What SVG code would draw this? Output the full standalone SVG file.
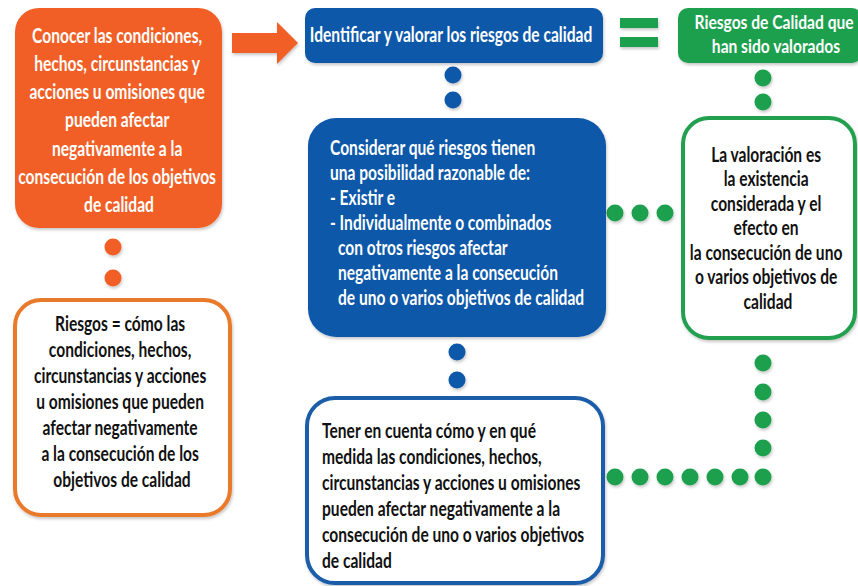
<svg xmlns="http://www.w3.org/2000/svg" width="858" height="586" viewBox="0 0 858 586">
<defs>
<filter id="sh" x="-20%" y="-20%" width="140%" height="140%">
<feDropShadow dx="1" dy="2" stdDeviation="1.5" flood-color="#000" flood-opacity="0.22"/>
</filter>
<style>
text{font-family:Lato,"Liberation Sans",Arial,sans-serif;font-size:21.5px;font-weight:bold}
.w{fill:#fff}
.k{fill:#111}
.c{text-anchor:middle}
.hd{font-size:19.5px}
.of{fill:#F15F25}
.bf{fill:#0B58A8}
.gf{fill:#1FA04D}
.os{fill:#fff;stroke:#E97A2C;stroke-width:4}
.bs{fill:#fff;stroke:#1A5DAA;stroke-width:4}
.gs{fill:#fff;stroke:#22A04F;stroke-width:4}
.sh{filter:url(#sh)}
</style>
</defs>
<rect width="858" height="586" fill="#fff"/>

<g id="connectors">
<polygon class="of sh" points="232,33 277,33 277,22 298,43 277,64 277,53 232,53"/>
<g class="gf sh">
<rect x="620" y="18" width="38" height="10"/>
<rect x="620" y="37" width="38" height="10"/>
</g>
<g class="of sh">
<circle cx="113" cy="247" r="8.5"/>
<circle cx="113" cy="278" r="8.5"/>
</g>
<g class="bf sh">
<circle cx="453" cy="75" r="8.5"/>
<circle cx="453" cy="100" r="8.5"/>
<circle cx="457" cy="352" r="8.5"/>
<circle cx="457" cy="380" r="8.5"/>
</g>
<g class="gf sh">
<circle cx="763" cy="78" r="8.5"/>
<circle cx="763" cy="102" r="8.5"/>
<circle cx="615" cy="213" r="8.5"/>
<circle cx="640" cy="213" r="8.5"/>
<circle cx="665" cy="213" r="8.5"/>
<circle cx="763" cy="363" r="8.5"/>
<circle cx="763" cy="392" r="8.5"/>
<circle cx="763" cy="420" r="8.5"/>
<circle cx="763" cy="448" r="8.5"/>
<circle cx="763" cy="477" r="8.5"/>
<circle cx="615" cy="477" r="8.5"/>
<circle cx="640" cy="477" r="8.5"/>
<circle cx="665" cy="477" r="8.5"/>
<circle cx="690" cy="477" r="8.5"/>
<circle cx="715" cy="477" r="8.5"/>
<circle cx="740" cy="477" r="8.5"/>
</g>
</g>

<g id="conocer">
<rect class="of sh" x="15" y="8" width="207" height="220" rx="24"/>
<text class="w c" transform="translate(119 0) scale(0.725 1)">
<tspan x="0" y="43">Conocer las condiciones,</tspan>
<tspan x="0" y="71">hechos,  circunstancias y</tspan>
<tspan x="0" y="99">acciones u omisiones que</tspan>
<tspan x="0" y="127">pueden afectar</tspan>
<tspan x="0" y="156">negativamente a la</tspan>
<tspan x="0" y="184">consecución de los objetivos</tspan>
<tspan x="0" y="212">de calidad</tspan>
</text>
</g>

<g id="riesgos-def">
<rect class="os sh" x="15" y="300" width="215" height="215" rx="26"/>
<text class="k c" transform="translate(122 0) scale(0.725 1)">
<tspan x="0" y="331">Riesgos = cómo las</tspan>
<tspan x="0" y="357">condiciones, hechos,</tspan>
<tspan x="0" y="383">circunstancias y acciones</tspan>
<tspan x="0" y="409">u omisiones que pueden</tspan>
<tspan x="0" y="435">afectar negativamente</tspan>
<tspan x="0" y="461">a la consecución de los</tspan>
<tspan x="0" y="487">objetivos de calidad</tspan>
</text>
</g>

<g id="identificar">
<rect class="bf sh" x="305" y="8" width="298" height="55" rx="10"/>
<text class="w c" transform="translate(451 0) scale(0.725 1)" x="0" y="42">Identificar y valorar los riesgos de calidad</text>
</g>

<g id="considerar">
<rect class="bf sh" x="308" y="118" width="298" height="219" rx="28"/>
<text class="w" transform="translate(330 0) scale(0.725 1)">
<tspan x="0" y="155">Considerar qué riesgos tienen</tspan>
<tspan x="0" y="180">una posibilidad razonable de:</tspan>
<tspan x="0" y="205">- Existir e</tspan>
<tspan x="0" y="230">- Individualmente o combinados</tspan>
<tspan x="11" y="255">con otros riesgos afectar</tspan>
<tspan x="11" y="280">negativamente a la consecución</tspan>
<tspan x="11" y="305">de uno o varios objetivos de calidad</tspan>
</text>
</g>

<g id="tener">
<rect class="bs sh" x="307" y="398" width="296" height="185" rx="28"/>
<text class="k" transform="translate(322 0) scale(0.725 1)">
<tspan x="0" y="438">Tener en cuenta cómo y en qué</tspan>
<tspan x="0" y="464">medida las condiciones, hechos,</tspan>
<tspan x="0" y="490">circunstancias y acciones u omisiones</tspan>
<tspan x="0" y="516">pueden afectar negativamente a la</tspan>
<tspan x="0" y="542">consecución de uno o varios objetivos</tspan>
<tspan x="0" y="568">de calidad</tspan>
</text>
</g>

<g id="riesgos-valorados">
<rect class="gf sh" x="678" y="8" width="184" height="55" rx="10"/>
<text class="w c hd" transform="translate(776 0) scale(0.8 1)">
<tspan x="0" y="29">Riesgos de Calidad que</tspan>
<tspan x="0" y="53">han sido valorados</tspan>
</text>
</g>

<g id="valoracion">
<rect class="gs sh" x="683" y="118" width="172" height="220" rx="26"/>
<text class="k c" transform="translate(768 0) scale(0.725 1)">
<tspan x="0" y="162">La valoración es</tspan>
<tspan x="0" y="186.5">la existencia</tspan>
<tspan x="0" y="211">considerada y el</tspan>
<tspan x="0" y="235.5">efecto en</tspan>
<tspan x="0" y="260">la consecución de uno</tspan>
<tspan x="0" y="284.5">o varios objetivos de</tspan>
<tspan x="0" y="309">calidad</tspan>
</text>
</g>
</svg>
